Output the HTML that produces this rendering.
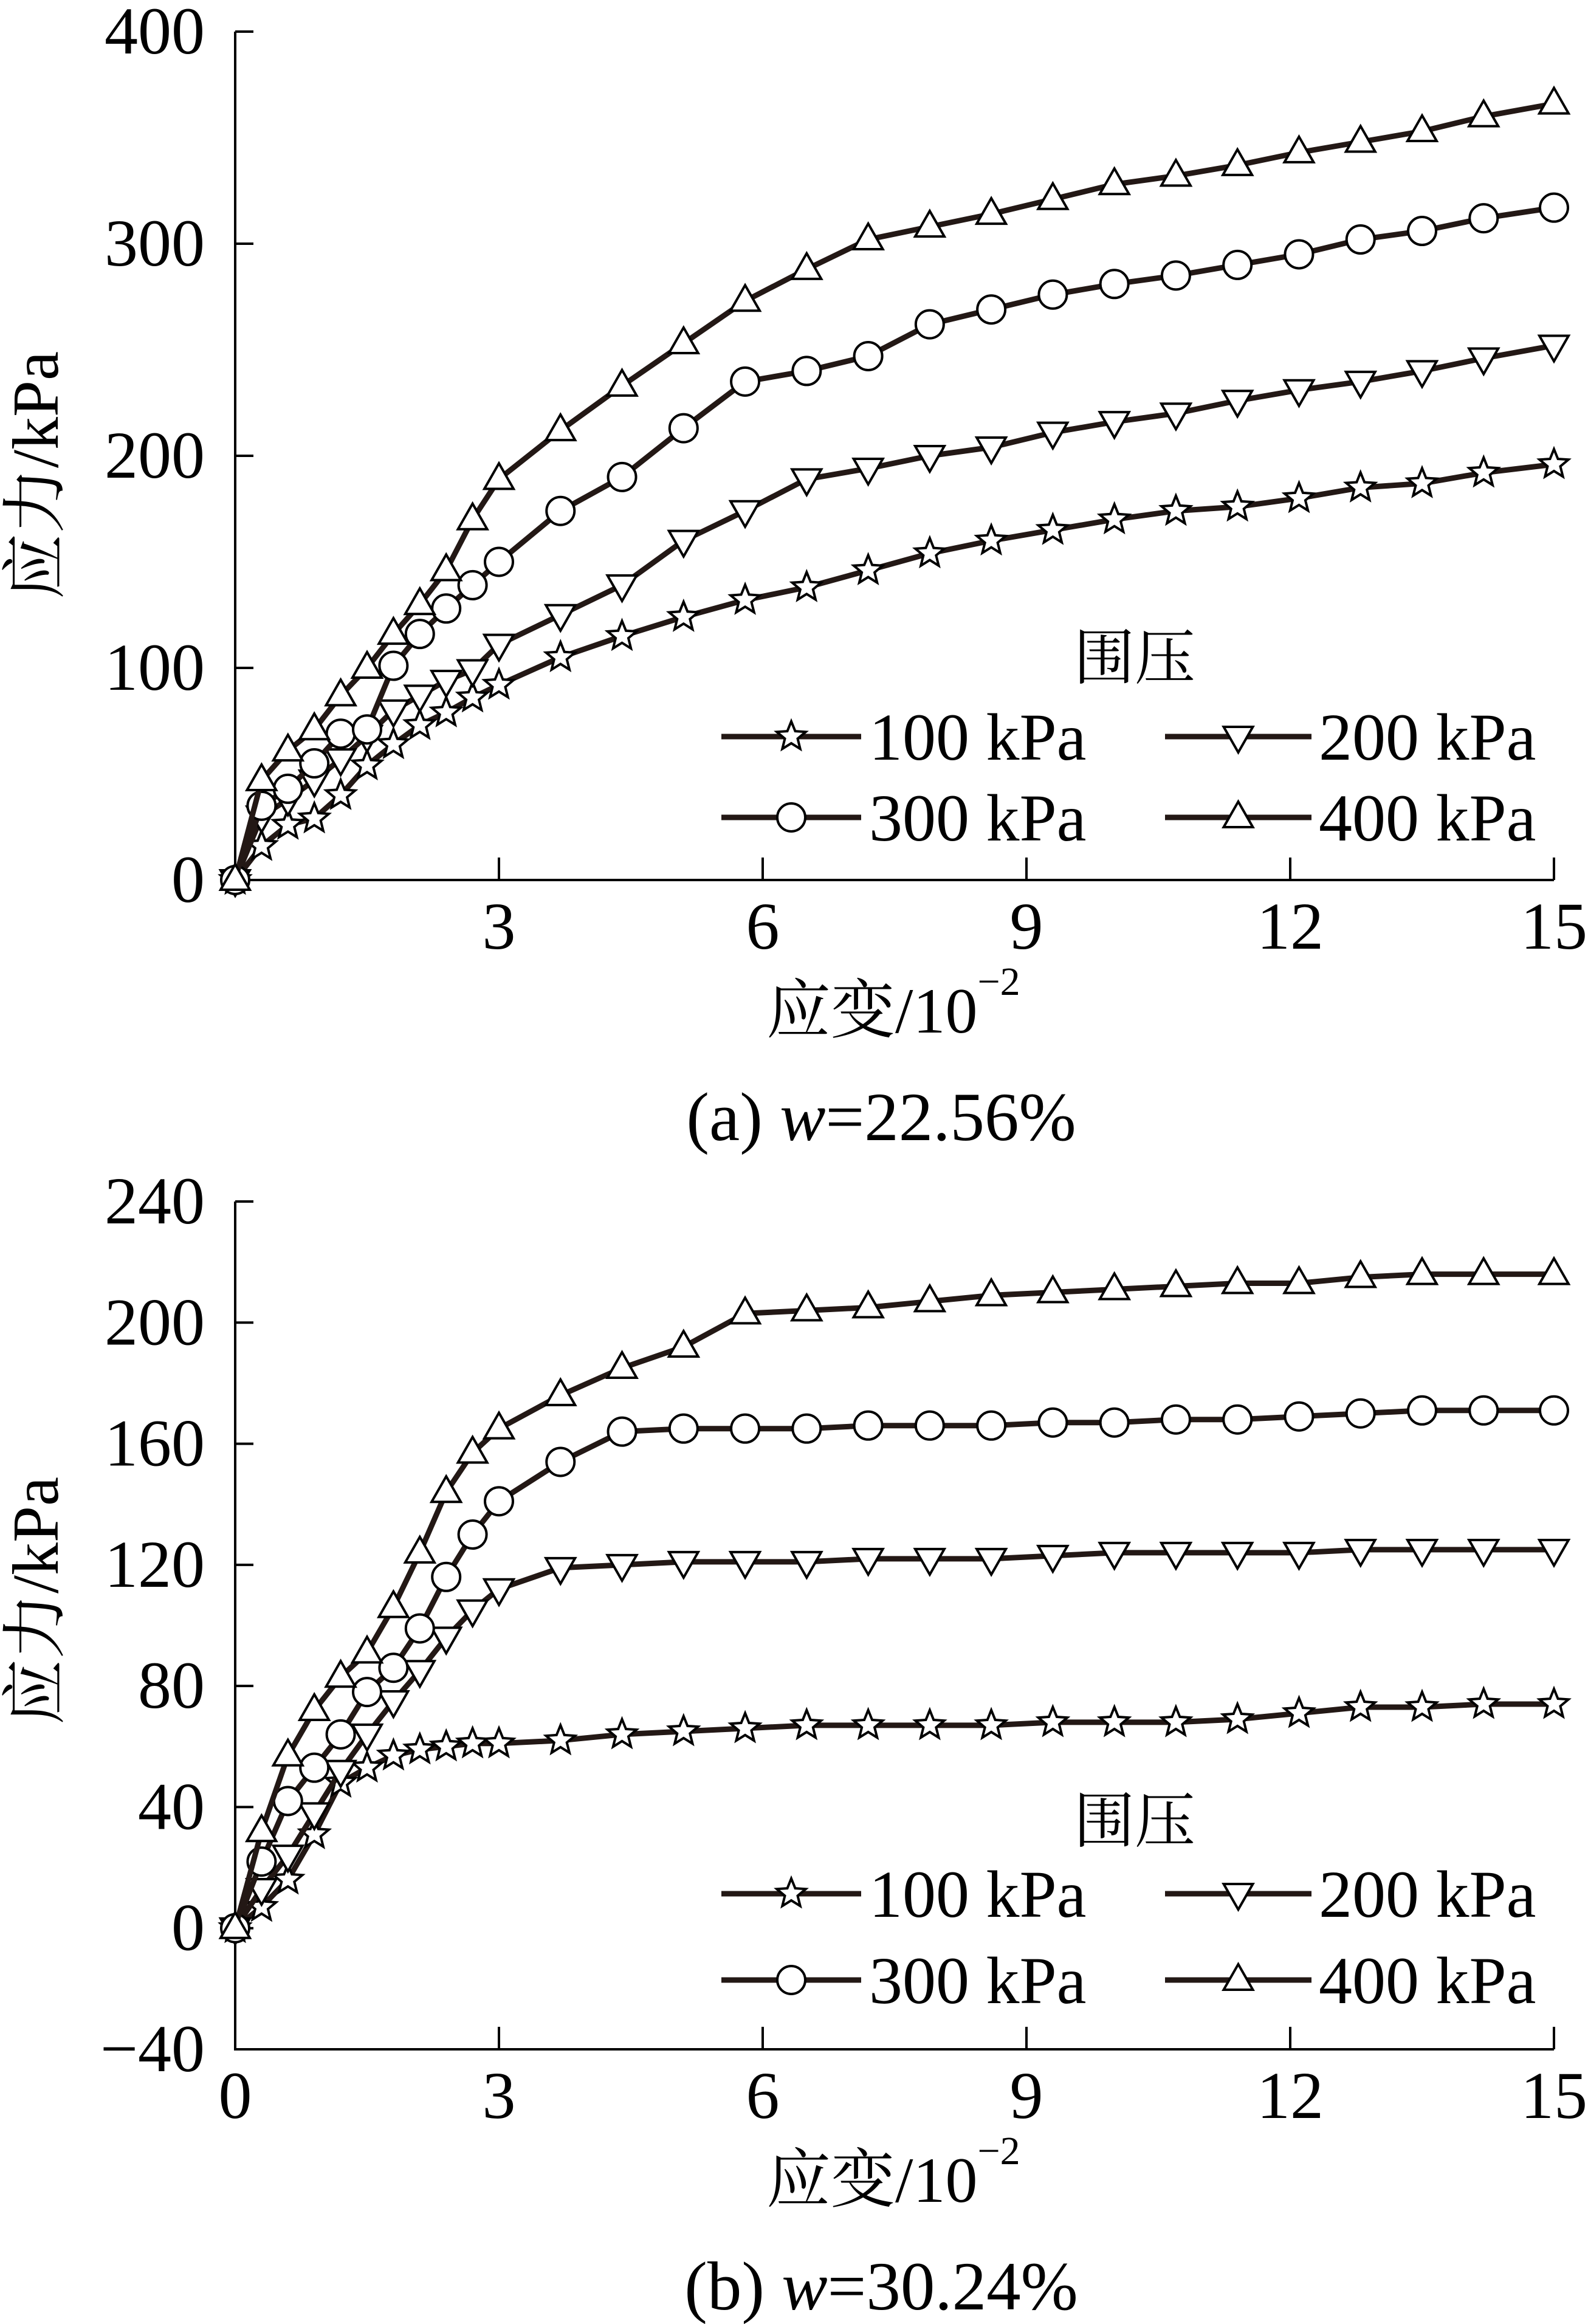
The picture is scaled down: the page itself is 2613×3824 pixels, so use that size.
<!DOCTYPE html>
<html><head><meta charset="utf-8">
<style>
html,body{margin:0;padding:0;background:#fff;}
svg{display:block;}
text{font-family:"Liberation Serif","Noto Serif CJK SC","Noto Sans CJK SC",serif;fill:#000;}
</style></head>
<body>
<svg id="fig" width="2613" height="3824" viewBox="0 0 2613 3824" xmlns="http://www.w3.org/2000/svg"></svg>
<script>
const strain = [0,0.3,0.6,0.9,1.2,1.5,1.8,2.1,2.4,2.7,3,3.7,4.4,5.1,5.8,6.5,7.2,7.9,8.6,9.3,10,10.7,11.4,12.1,12.8,13.5,14.2,15];
const seriesNames = ["100 kPa","200 kPa","300 kPa","400 kPa"];
const a100 = [0,16,26,29,40,54,64,73,79,86,92,105,115,124,132,138,146,154,160,165,170,174,176,180,185,187,192,196];
const a200 = [0,30,38,47,57,68,80,87,94,99,111,125,139,160,174,189,194,200,204,211,216,220,226,231,235,240,246,252];
const a300 = [0,35,43,55,69,71,101,116,128,139,150,174,190,213,235,240,247,262,269,276,281,285,290,295,302,306,312,317];
const a400 = [0,47,61,71,87,100,116,130,146,170,189,212,233,253,273,288,302,308,314,321,328,332,337,343,348,353,360,366];
const b100 = [0,7,16,31,48,53,57,59,60,61,61,62,64,65,66,67,67,67,67,68,68,68,69,71,73,73,74,74];
const b200 = [0,13,24,38,52,64,75,85,96,105,112,119,120,121,121,121,122,122,122,123,124,124,124,124,125,125,125,125];
const b300 = [0,22,42,53,64,78,86,99,116,130,141,154,164,165,165,165,166,166,166,167,167,168,168,169,170,171,171,171];
const b400 = [0,32,57,72,83,91,106,124,144,157,165,176,185,192,203,204,205,207,209,210,211,212,213,213,215,216,216,216];
const xTicksA = [3,6,9,12,15];
const xTicksB = [0,3,6,9,12,15];
const yTicksA = [0,100,200,300,400];
const yTicksB = [-40,0,40,80,120,160,200,240];

const NS = "http://www.w3.org/2000/svg";
const svg = document.getElementById('fig');
function mk(tag, attrs, parent){
  const e = document.createElementNS(NS, tag);
  for (const k in attrs) e.setAttribute(k, attrs[k]);
  (parent||svg).appendChild(e);
  return e;
}
const shapes = ["star","down","circle","up"];
function marker(g, type, cx, cy){
  let e;
  if (type === "circle") {
    e = mk('circle',{cx:cx,cy:cy,r:23,fill:'#fff',stroke:'#000','stroke-width':4},g);
  } else if (type === "up") {
    e = mk('polygon',{points:`${cx},${cy-26} ${cx+24},${cy+16} ${cx-24},${cy+16}`,fill:'#fff',stroke:'#000','stroke-width':4,'stroke-linejoin':'miter'},g);
  } else if (type === "down") {
    e = mk('polygon',{points:`${cx},${cy+26} ${cx+24},${cy-16} ${cx-24},${cy-16}`,fill:'#fff',stroke:'#000','stroke-width':4},g);
  } else {
    let p = [];
    for (let i=0;i<10;i++){
      const r = i%2===0 ? 25 : 11;
      const a = -Math.PI/2 + i*Math.PI/5;
      p.push((cx+r*Math.cos(a)).toFixed(1)+","+(cy+r*Math.sin(a)).toFixed(1));
    }
    e = mk('polygon',{points:p.join(' '),fill:'#fff',stroke:'#000','stroke-width':4},g);
  }
  return e;
}

function chart(opt){
  const g = mk('g',{});
  
  
  const X0 = 387, X1 = 2557;
  const xs = v => X0 + (v/15)*(X1-X0);
  const ys = v => opt.yBot + (v-opt.ymin)/(opt.ymax-opt.ymin)*(opt.yTop-opt.yBot);
  // axes
  const ax = mk('path',{d:`M${X0},${opt.yTop} V${opt.yBot} H${X1}`,fill:'none',stroke:'#000','stroke-width':4},g);
  
  
  opt.yt.forEach(v=>{
    const y = ys(v);
    mk('line',{x1:X0,y1:y,x2:X0+30,y2:y,stroke:'#000','stroke-width':4},g);
    const t = mk('text',{x:337,y:y+36,'font-size':110,'text-anchor':'end'},g);
    t.textContent = v<0 ? "\u2212"+Math.abs(v) : String(v);
    
    
  });
  opt.xt.forEach(v=>{
    const x = xs(v);
    if (v>0) mk('line',{x1:x,y1:opt.yBot,x2:x,y2:opt.yBot-37,stroke:'#000','stroke-width':4},g);
    const t = mk('text',{x:x,y:opt.yBot+113,'font-size':110,'text-anchor':'middle'},g);
    t.textContent = String(v);
    
    
  });
  // series
  opt.series.forEach((s,i)=>{
    const sg = mk('g',{},g);
    
    
    const d = s.map((v,j)=>(j?'L':'M')+xs(strain[j]).toFixed(1)+','+ys(v).toFixed(1)).join(' ');
    const ln = mk('path',{d:d,fill:'none',stroke:'#231815','stroke-width':9,'stroke-linejoin':'round'},sg);
    
    
    s.forEach((v,j)=>{
      const m = marker(sg, shapes[i], xs(strain[j]), ys(v));
      
      
    });
  });
  // y title
  const yt = mk('text',{x:0,y:0,'font-size':108,'text-anchor':'middle',transform:`translate(95,${opt.yTitleY}) rotate(-90)`},g);
  yt.textContent = "应力/kPa";
  
  
  // x title
  const xt = mk('text',{x:1261,y:opt.yBot+251,'font-size':106},g);
  xt.innerHTML = '应变/10<tspan font-size="66" dy="-62">\u22122</tspan>';
  
  
  // caption
  const cp = mk('text',{x:1450,y:opt.yBot+428,'font-size':113,'text-anchor':'middle'},g);
  cp.innerHTML = opt.caption;
  
  
  // legend
  const lg = mk('g',{},g);
  
  
  const lt = mk('text',{x:1867,y:opt.leg[0]+38,'font-size':100,'text-anchor':'middle'},lg);
  lt.textContent = "围压";
  
  
  const cols = [[1187,1417,1430],[1917,2158,2170]];
  seriesNames.forEach((nm,i)=>{
    const c = cols[i%2], y = opt.leg[1+Math.floor(i/2)];
    const eg = mk('g',{},lg);
    
    
    mk('line',{x1:c[0],y1:y,x2:c[1],y2:y,stroke:'#231815','stroke-width':9},eg);
    marker(eg, shapes[i], (c[0]+c[1])/2, y);
    const t = mk('text',{x:c[2],y:y+38,'font-size':110},eg);
    t.textContent = nm;
  });
}

chart({name:'chart-a', yTop:52, yBot:1448, ymin:0, ymax:400, yt:yTicksA, xt:xTicksA,
  series:[a100,a200,a300,a400], yTitleY:782, leg:[1079,1212,1345],
  caption:'(a) <tspan font-style="italic">w</tspan>=22.56%'});
chart({name:'chart-b', yTop:1977, yBot:3372, ymin:-40, ymax:240, yt:yTicksB, xt:xTicksB,
  series:[b100,b200,b300,b400], yTitleY:2634, leg:[2993,3116,3258],
  caption:'(b) <tspan font-style="italic">w</tspan>=30.24%'});
</script>
</body></html>
